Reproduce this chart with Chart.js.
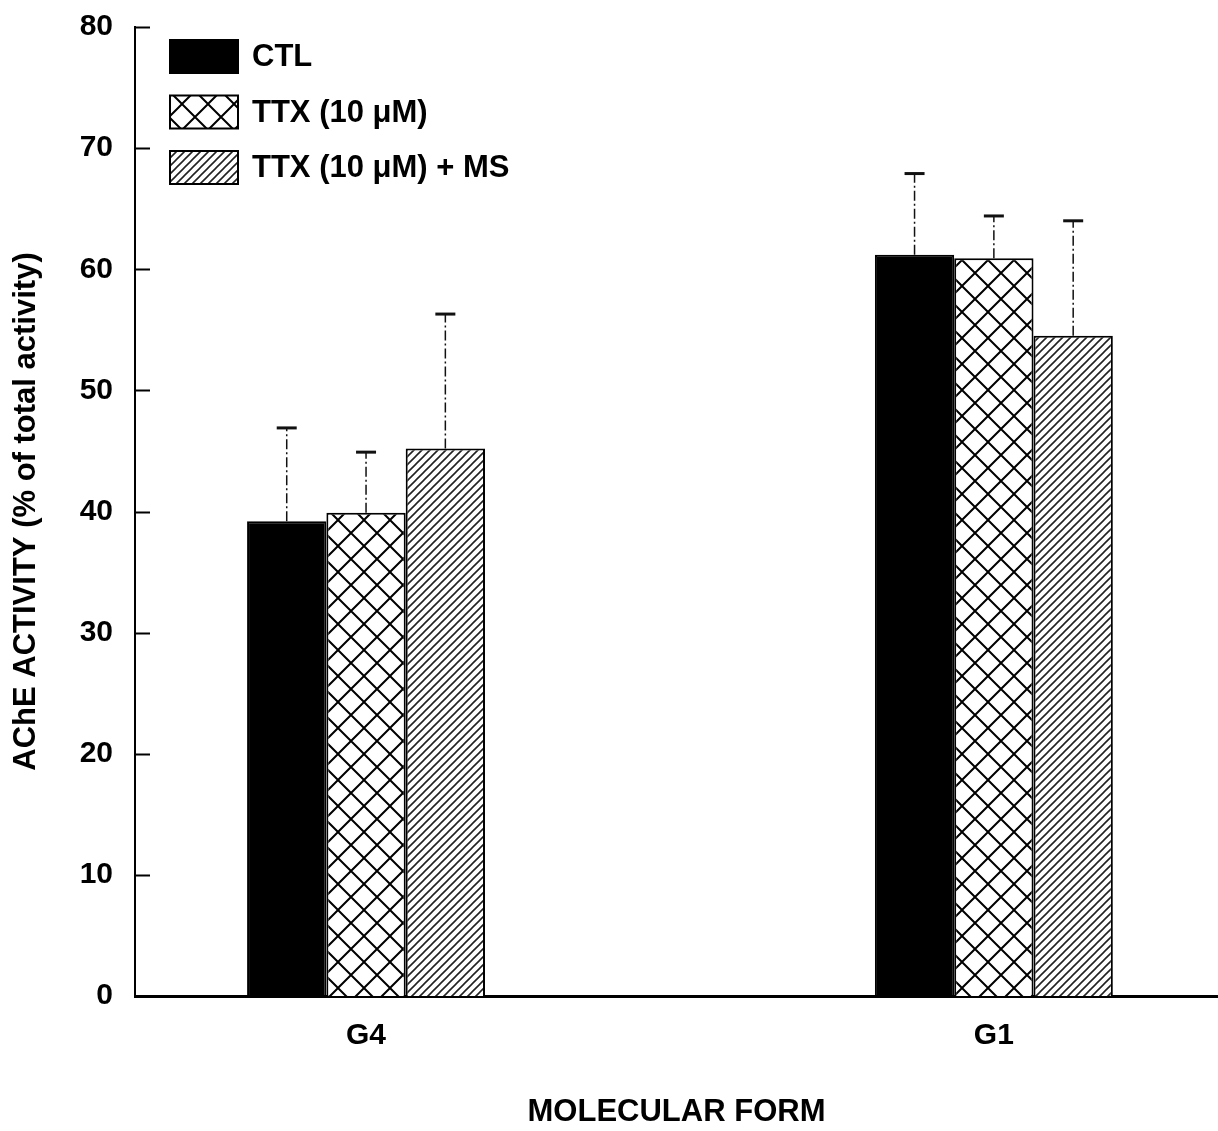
<!DOCTYPE html>
<html>
<head>
<meta charset="utf-8">
<script src="https://cdn.jsdelivr.net/npm/chart.js@4.4.1/dist/chart.umd.min.js"></script>
<style>
  html, body { margin: 0; padding: 0; background: #ffffff; }
  #wrap { width: 1218px; height: 1131px; }
</style>
</head>
<body>
<div id="wrap"><canvas id="c" width="1218" height="1131"></canvas></div>
<script>
// ---- data ----
const categories = ['G4', 'G1'];
const seriesNames = ['CTL', 'TTX (10 \u03BCM)', 'TTX (10 \u03BCM) + MS'];
const ctlValues = [39.2, 61.2];
const ttxValues = [39.9, 60.9];
const msValues  = [45.2, 54.5];
const ctlErrors = [7.7, 6.7];
const ttxErrors = [5.0, 3.5];
const msErrors  = [11.1, 9.5];
const yTicks = [0, 10, 20, 30, 40, 50, 60, 70, 80];

const FONT = '"Liberation Sans", Arial, Helvetica, sans-serif';

function makeCross(size, lw) {
  const c = document.createElement('canvas');
  c.width = size; c.height = size;
  const g = c.getContext('2d');
  g.fillStyle = '#fff'; g.fillRect(0, 0, size, size);
  g.strokeStyle = '#000'; g.lineWidth = lw;
  g.beginPath();
  g.moveTo(0, 0); g.lineTo(size, size);
  g.moveTo(0, size); g.lineTo(size, 0);
  g.stroke();
  return document.getElementById('c').getContext('2d').createPattern(c, 'repeat');
}
function makeHatch(size, lw, color) {
  const c = document.createElement('canvas');
  c.width = size; c.height = size;
  const g = c.getContext('2d');
  g.fillStyle = '#fff'; g.fillRect(0, 0, size, size);
  g.strokeStyle = color; g.lineWidth = lw;
  g.beginPath();
  g.moveTo(-1, size + 1); g.lineTo(size + 1, -1);
  g.moveTo(-size / 2 - 1, size / 2 + 1); g.lineTo(size / 2 + 1, -size / 2 - 1);
  g.moveTo(size / 2 - 1, size * 1.5 + 1); g.lineTo(size * 1.5 + 1, size / 2 - 1);
  g.stroke();
  return document.getElementById('c').getContext('2d').createPattern(c, 'repeat');
}

const crossPat = makeCross(26, 2);
const hatchPat = makeHatch(8, 1.6, '#222');

const errorSets = [ctlErrors, ttxErrors, msErrors];

const errorBarPlugin = {
  id: 'errorBars',
  afterDatasetsDraw(chart) {
    const ctx = chart.ctx;
    const y = chart.scales.y;
    chart.data.datasets.forEach((ds, di) => {
      const meta = chart.getDatasetMeta(di);
      meta.data.forEach((el, i) => {
        const v = ds.data[i].y;
        const e = errorSets[di][i];
        const yTop = y.getPixelForValue(v + e);
        ctx.save();
        ctx.strokeStyle = '#111';
        ctx.lineWidth = 1.5;
        ctx.setLineDash([10, 3, 2, 3]);
        ctx.beginPath();
        ctx.moveTo(el.x, el.y);
        ctx.lineTo(el.x, yTop);
        ctx.stroke();
        ctx.setLineDash([]);
        ctx.lineWidth = 3;
        ctx.beginPath();
        ctx.moveTo(el.x - 10, yTop);
        ctx.lineTo(el.x + 10, yTop);
        ctx.stroke();
        ctx.restore();
      });
    });
  }
};

const innerTicksPlugin = {
  id: 'innerTicks',
  afterDraw(chart) {
    const ctx = chart.ctx;
    const y = chart.scales.y;
    const left = chart.chartArea.left;
    ctx.save();
    ctx.strokeStyle = '#000';
    ctx.lineWidth = 2;
    yTicks.forEach(t => {
      if (t === 0) return;
      const py = Math.round(y.getPixelForValue(t)) + 0.5;
      ctx.beginPath();
      ctx.moveTo(left, py);
      ctx.lineTo(left + 15, py);
      ctx.stroke();
    });
    ctx.restore();
  }
};

const legendPlugin = {
  id: 'innerLegend',
  afterDraw(chart) {
    const ctx = chart.ctx;
    ctx.save();
    chart.data.datasets.forEach((ds, i) => {
      const bx = 170, by = 40 + i * 55.5, bw = 68, bh = 33;
      ctx.fillStyle = ds.backgroundColor;
      ctx.fillRect(bx, by, bw, bh);
      ctx.strokeStyle = '#000';
      ctx.lineWidth = 2;
      ctx.strokeRect(bx, by, bw, bh);
      ctx.fillStyle = '#000';
      ctx.font = 'bold 31px ' + FONT;
      ctx.textBaseline = 'middle';
      ctx.textAlign = 'left';
      ctx.fillText(ds.label, 252, by + bh / 2 + 1);
    });
    ctx.restore();
  }
};

const toPoints = arr => arr.map((v, i) => ({ x: i + 1, y: v }));

new Chart(document.getElementById('c'), {
  type: 'bar',
  data: {
    datasets: [
      { label: seriesNames[0], data: toPoints(ctlValues), backgroundColor: '#000', borderColor: '#000', borderWidth: 2 },
      { label: seriesNames[1], data: toPoints(ttxValues), backgroundColor: crossPat, borderColor: '#000', borderWidth: 2 },
      { label: seriesNames[2], data: toPoints(msValues),  backgroundColor: hatchPat, borderColor: '#000', borderWidth: 2 }
    ]
  },
  options: {
    responsive: false,
    animation: false,
    devicePixelRatio: 1,
    categoryPercentage: 0.379,
    barPercentage: 1.0,
    layout: { padding: { top: 27, right: 0, left: 0, bottom: 0 } },
    plugins: { legend: { display: false }, tooltip: { enabled: false } },
    scales: {
      x: {
        type: 'linear',
        position: 'bottom',
        offset: false,
        min: 0.632,
        max: 2.357,
        afterFit: s => { s.height = 135; s.paddingLeft = 0; s.paddingRight = 0; },
        afterBuildTicks: s => { s.ticks = categories.map((c, i) => ({ value: i + 1 })); },
        grid: { display: false, drawTicks: false, offset: false },
        border: { display: true, color: '#000', width: 3 },
        ticks: {
          autoSkip: false,
          maxRotation: 0,
          padding: 22,
          color: '#000',
          font: { family: FONT, size: 30, weight: 'bold' },
          callback: v => categories[Math.round(v) - 1] || ''
        },
        title: {
          display: true,
          text: 'MOLECULAR FORM',
          color: '#000',
          font: { family: FONT, size: 31, weight: 'bold' },
          padding: { top: 0, bottom: 0 }
        }
      },
      y: {
        min: 0,
        max: 80,
        afterFit: s => { s.width = 135; s.paddingTop = 0; s.paddingBottom = 0; },
        afterBuildTicks: s => { s.ticks = yTicks.map(v => ({ value: v })); },
        grid: { display: false, drawTicks: false },
        border: { display: true, color: '#000', width: 2 },
        ticks: {
          padding: 22,
          color: '#000',
          font: { family: FONT, size: 30, weight: 'bold' }
        },
        title: {
          display: true,
          text: 'AChE ACTIVITY (% of total activity)',
          color: '#000',
          font: { family: FONT, size: 31, weight: 'bold' },
          padding: { top: 8, bottom: 0 }
        }
      }
    }
  },
  plugins: [errorBarPlugin, innerTicksPlugin, legendPlugin]
});
</script>
</body>
</html>
